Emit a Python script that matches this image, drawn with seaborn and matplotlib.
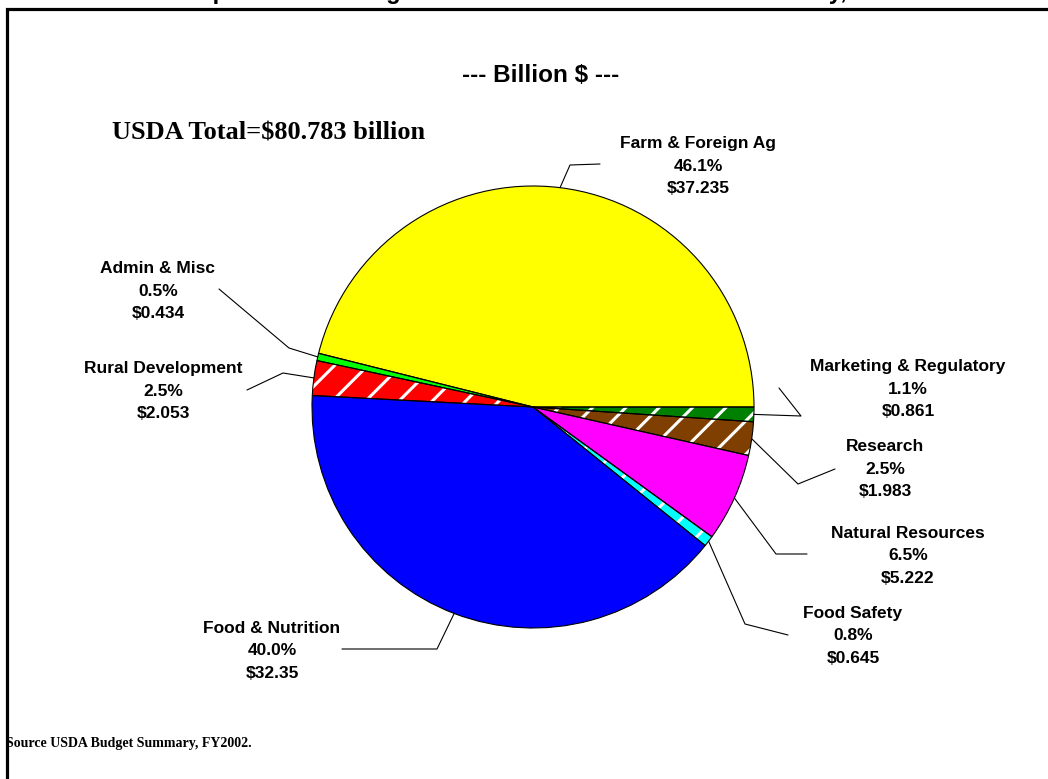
import matplotlib
matplotlib.use("Agg")
import matplotlib.pyplot as plt
import seaborn as sns
import numpy as np
from matplotlib.patches import Rectangle

# budget by mission area, billion $ (FY2002)
areas = ["Farm & Foreign Ag", "Admin & Misc", "Rural Development", "Food & Nutrition",
         "Food Safety", "Natural Resources", "Research", "Marketing & Regulatory"]
billions = [37.235, 0.434, 2.053, 32.35, 0.645, 5.222, 1.983, 0.861]
colors = ["#ffff00", "#00ff00", "#ff0000", "#0000ff",
          "#00ffff", "#ff00ff", "#7f3f00", "#008000"]
hatched = [False, False, True, False, True, False, True, True]

sns.set_style("white")
plt.rcParams["hatch.linewidth"] = 2.2
plt.rcParams["text.color"] = "black"

W, H = 1048, 779
fig = plt.figure(figsize=(W / 100, H / 100), dpi=100)

# pie centre / radius in pixels
cx, cy, r = 533, 407, 221
ax = fig.add_axes([(cx - r) / W, (H - cy - r) / H, 2 * r / W, 2 * r / H])


def pxy(x, y):
    return (x - cx) / r, (cy - y) / r


# fill
wedges, _ = ax.pie(billions, colors=colors, startangle=0, counterclock=True,
                   radius=1, wedgeprops=dict(linewidth=0))
# white hatch on some slices
hw, _ = ax.pie(billions, colors=["none"] * len(billions), startangle=0, radius=1,
               wedgeprops=dict(linewidth=0))
for w, h in zip(hw, hatched):
    if h:
        w.set_hatch("/")
        w.set_edgecolor("white")
        w.set_linewidth(0)
    else:
        w.set_visible(False)
# outlines
ax.pie(billions, colors=["none"] * len(billions), startangle=0, radius=1,
       wedgeprops=dict(edgecolor="black", linewidth=0.8))
ax.set_xlim(-1, 1)
ax.set_ylim(-1, 1)
ax.axis("off")

# leader line elbows/ends and label centres (pixels)
leaders = {
    "Farm & Foreign Ag": [(570, 165), (600, 164)],
    "Admin & Misc": [(289, 348), (219, 289)],
    "Rural Development": [(283, 373), (247, 390)],
    "Food & Nutrition": [(437, 649), (342, 649)],
    "Food Safety": [(745, 624), (788, 635)],
    "Natural Resources": [(776, 554), (807, 554)],
    "Research": [(798, 484), (835, 469)],
    "Marketing & Regulatory": [(801, 416), (779, 388)],
}
label_pos = {
    "Farm & Foreign Ag": (698, 166),
    "Admin & Misc": (158, 291),
    "Rural Development": (163, 391),
    "Food & Nutrition": (272, 651),
    "Food Safety": (853, 636),
    "Natural Resources": (908, 556),
    "Research": (885, 469),
    "Marketing & Regulatory": (908, 389),
}

total = sum(billions)
for w, name, val in zip(wedges, areas, billions):
    mid = np.deg2rad((w.theta1 + w.theta2) / 2)
    pts = [(np.cos(mid), np.sin(mid))] + [pxy(*p) for p in leaders[name]]
    xs, ys = zip(*pts)
    ax.plot(xs, ys, color="black", lw=0.8, clip_on=False)
    lx, ly = pxy(*label_pos[name])
    ax.text(lx, ly, f"{name}\n{val / total * 100:.1f}%\n\\${val:g}",
            ha="center", va="center", fontsize=12.5, fontweight="bold",
            family="Liberation Sans", linespacing=1.6, clip_on=False)

fig.text(541 / W, 1 - 75 / H, "--- Billion \\$ ---", ha="center", va="center",
         fontsize=17.5, fontweight="bold", family="Liberation Sans")
fig.text(112 / W, 1 - 133 / H, "USDA Total=\\$80.783 billion", ha="left", va="center",
         fontsize=19, fontweight="bold", family="Liberation Serif")
fig.text(6 / W, 1 - 743 / H, "Source USDA Budget Summary, FY2002.", ha="left",
         va="center", fontsize=10, fontweight="bold", family="Liberation Serif")
# title sits above the top edge, only descenders show
fig.text(0.5, 1 + 1 / H, "USDA Expenditures Budget Estimates for Mission Area Authority, FY2002",
         ha="center", va="baseline", fontsize=17, fontweight="bold", family="Liberation Sans")

# frame
fig.add_artist(Rectangle((6.5 / W, -0.05), 1.1, 1 - 8.5 / H + 0.05, transform=fig.transFigure,
                         fill=False, edgecolor="black", linewidth=2.3, clip_on=False))

fig.savefig("out.png", dpi=100)
